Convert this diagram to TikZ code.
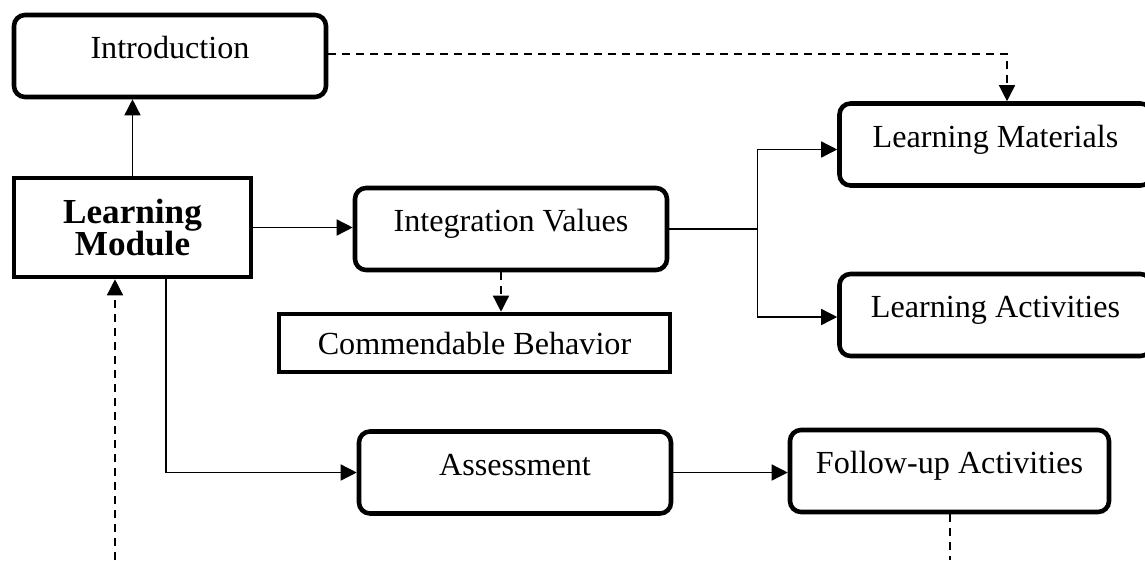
\documentclass[tikz,border=0pt]{standalone}
\usepackage{fontspec}
\setmainfont{Liberation Serif}
\usetikzlibrary{arrows.meta,calc}

\begin{document}
\begin{tikzpicture}[
	rbox/.style={draw, line width=2.6pt, rounded corners=0.22cm, inner sep=0pt, minimum width=6.24cm, text height=0.87cm, text depth=0.77cm, font=\fontsize{18.3}{18}\selectfont},
	sbox/.style={draw, line width=2.6pt, inner sep=0pt, align=center, font=\fontsize{18.3}{17.6}\selectfont},
	link/.style={line width=0.8pt, -{Triangle[length=3.2mm,width=3.2mm]}},
	dline/.style={line width=0.8pt, dash pattern=on 0.16cm off 0.12cm},
	]
	\useasboundingbox (0,0) rectangle (22.9,-11.2);
	\coordinate (bot) at (0,-11.2);
	
	\node[rbox] (intro) at (3.40,-1.12) {Introduction};
	\node[sbox, minimum width=4.74cm, minimum height=1.98cm, font=\bfseries\fontsize{20}{18.6}\selectfont] (lmod) at (2.65,-4.55) {Learning\\Module};
	\node[rbox] (iv) at (10.22,-4.58) {Integration Values};
	\node[sbox, minimum width=7.82cm, minimum height=1.16cm] (cb) at (9.49,-6.86) {Commendable Behavior};
	\node[rbox] (lmat) at (19.91,-2.89) {Learning Materials};
	\node[rbox] (lact) at (19.91,-6.30) {Learning Activities};
	\node[rbox] (assess) at (10.30,-9.45) {Assessment};
	\node[rbox, minimum width=6.38cm] (fa) at (18.99,-9.42) {Follow-up Activities};
	
	\draw[link] (lmod.north) -- (lmod.north |- intro.south);
	\draw[link] (lmod.east) -- (lmod.east -| iv.west);
	\draw[line width=0.8pt] (iv.east) -- ++(1.76,0) coordinate (br);
	\draw[link] (br) |- ([yshift=-1mm]lmat.west);
	\draw[link] (br) |- ([yshift=-0.4mm]lact.west);
	\draw[link, dline] ([xshift=-2mm]iv.south) -- ([xshift=-2mm]iv.south |- cb.north);
	\draw[link] ([xshift=6.7mm]lmod.south) |- (assess.west);
	\draw[link] (assess.east) -- (assess.east -| fa.west);
	
	\draw[link, dline] ([yshift=0.4mm]intro.east) -| ([xshift=2.3mm]lmat.north);
	\draw[dline] ([xshift=0.1mm]fa.south) -- ([xshift=0.1mm]fa.south |- bot);
	\draw[link, dline] ([xshift=-3.5mm]lmod.south |- bot) -- ([xshift=-3.5mm]lmod.south);
\end{tikzpicture}
\end{document}
